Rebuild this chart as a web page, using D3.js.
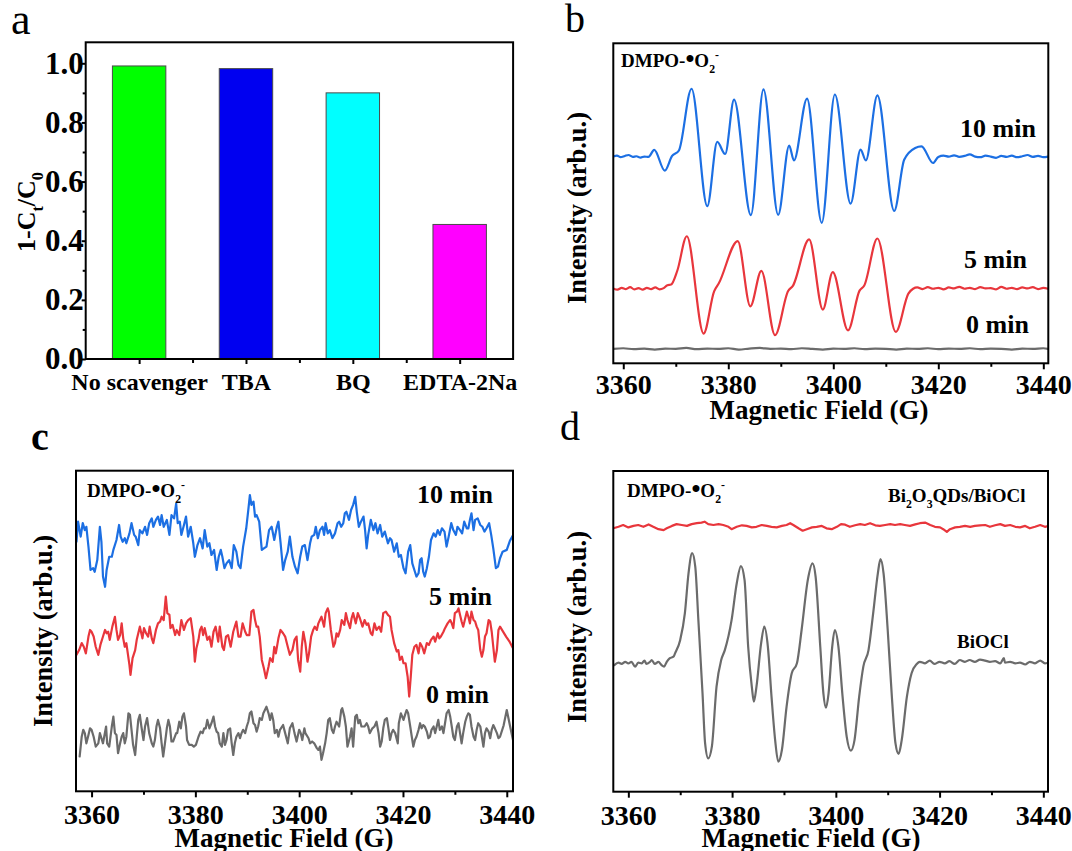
<!DOCTYPE html>
<html><head><meta charset="utf-8">
<script src="https://cdn.jsdelivr.net/npm/d3@7"></script>
<style>
body{margin:0;background:#fff}
svg{display:block}
</style>
</head><body>
<svg id="fig" width="1072" height="851"></svg>
<script>
// ---------------- DATA ----------------
const barCategories = ["No scavenger","TBA","BQ","EDTA-2Na"];
const barValues = [0.991, 0.982, 0.900, 0.455];
const removalTicks = [0,0.2,0.4,0.6,0.8,1.0];
const removalMinor = [0.1,0.3,0.5,0.7,0.9];
const fieldTicks = [3360,3380,3400,3420,3440];
const fieldMinor = [3370,3390,3410,3430];

// panel b : DMPO-•O2- with Bi2O3QDs/BiOCl, [field (G), intensity (arb.u.)]
const b10min = [[3358.1,64.6],[3358.8,64.9],[3359.5,64.4],[3360.3,64.8],[3361.0,65.1],[3361.8,64.5],[3362.5,64.7],[3363.3,64.3],[3364.0,64.6],[3364.8,64.5],
[3365.9,66.7],[3367.9,60.2],[3369.3,64.8],[3370.6,66.5],[3373.0,85.8],[3376.0,49.1],[3377.9,69.2],[3379.4,65.4],[3381.1,82.4],[3384.3,46.3],[3386.7,85.6],[3389.5,46.4],[3391.6,68.0],[3392.5,63.4],[3395.0,82.7],[3397.8,43.9],[3400.3,84.0],[3403.3,49.9],[3405.2,66.8],[3406.2,63.4],[3408.4,83.7],[3411.6,47.6],[3413.5,63.6],[3415.6,67.3],[3416.8,67.8],[3419.0,62.6],[3420.0,64.5],
[3421.0,64.9],[3422.0,64.6],[3423.0,65.0],[3424.0,64.5],[3425.0,64.8],[3426.0,65.3],[3427.0,64.6],[3428.0,64.4],[3429.0,64.9],[3430.0,64.6],[3431.0,64.2],[3432.0,64.8],[3433.0,64.5],[3434.0,64.9],[3435.0,64.4],[3436.0,64.7],[3437.0,65.1],[3438.0,64.5],[3439.0,64.8],[3440.0,64.4],[3440.9,64.6]];
const b5min = [[3358.1,23.4],[3358.9,23.0],[3359.7,23.6],[3360.5,23.2],[3361.3,23.8],[3362.1,23.1],[3362.9,23.5],[3363.7,23.0],[3364.5,23.6],[3365.3,23.2],[3366.1,23.7],[3366.9,23.1],[3367.7,23.5],[3368.4,24.4],[3369.1,24.6],[3370.3,29.0],[3372.1,39.7],[3375.3,9.3],[3377.3,22.5],[3378.2,25.0],[3381.8,38.2],[3384.2,17.8],[3386.3,28.9],[3388.9,8.8],[3391.4,22.6],[3392.3,24.2],[3395.4,38.7],[3398.0,16.8],[3399.9,28.5],[3402.8,10.3],[3405.0,22.7],[3405.9,24.3],[3408.4,39.0],[3411.9,9.8],[3414.3,21.8],[3415.2,23.3],
[3416.0,23.7],[3417.0,23.2],[3418.0,23.8],[3419.0,23.3],[3420.0,23.6],[3421.0,23.1],[3422.0,23.7],[3423.0,23.4],[3424.0,23.9],[3425.0,23.3],[3426.0,23.6],[3427.0,23.2],[3428.0,23.8],[3429.0,23.4],[3430.0,23.5],[3431.0,23.1],[3432.0,23.9],[3433.0,23.3],[3434.0,23.6],[3435.0,23.2],[3436.0,23.7],[3437.0,23.4],[3438.0,23.8],[3439.0,23.2],[3440.0,23.6],[3440.9,23.3]];
const b0min = [[3358.1,4.5],[3360,4.7],[3362,4.4],[3364,4.6],[3366,4.3],[3368,4.6],[3370,4.5],[3372,4.8],[3374,4.4],[3376,4.6],[3378,4.5],[3380,4.7],[3382,4.3],[3384,4.6],[3386,4.8],[3388,4.5],[3390,4.6],[3392,4.4],[3394,4.7],[3396,4.5],[3398,4.3],[3400,4.6],[3402,4.5],[3404,4.7],[3406,4.4],[3408,4.6],[3410,4.5],[3412,4.3],[3414,4.6],[3416,4.5],[3418,4.7],[3420,4.4],[3422,4.6],[3424,4.5],[3426,4.7],[3428,4.4],[3430,4.6],[3432,4.5],[3434,4.3],[3436,4.6],[3438,4.5],[3440,4.7],[3440.9,4.5]];

// panel c : DMPO-•O2- with BiOCl
const c10min = [[3357.1,83.2],[3357.4,89.9],[3357.9,84.9],[3358.3,89.4],[3358.7,87.1],[3359.0,88.2],[3359.4,81.6],[3359.8,73.8],[3360.3,74.4],[3360.6,73.2],[3361.1,77.1],[3361.6,88.2],[3361.9,83.2],[3362.2,71.6],[3362.6,68.2],[3362.9,73.8],[3363.4,78.2],[3363.9,78.2],[3364.2,80.5],[3364.8,83.8],[3365.3,88.8],[3365.6,84.9],[3366.0,83.2],[3366.4,84.4],[3366.7,82.7],[3367.3,86.0],[3367.7,89.4],[3368.2,85.5],[3368.5,84.9],[3369.0,82.1],[3369.3,87.1],[3369.8,86.0],[3370.3,88.2],[3370.7,85.5],[3371.1,89.4],[3371.6,91.0],[3371.9,88.2],[3372.4,90.5],[3372.8,91.6],[3373.2,88.8],[3373.5,92.1],[3373.9,88.2],[3374.5,90.5],[3375.0,85.5],[3375.4,92.1],[3375.9,91.0],[3376.3,96.0],[3376.6,89.4],[3377.0,89.9],[3377.3,85.5],[3377.8,88.8],[3378.2,91.6],[3378.6,84.9],[3379.1,88.2],[3379.6,82.7],[3379.9,78.2],[3380.4,82.1],[3380.9,84.4],[3381.4,81.0],[3381.8,87.1],[3382.3,81.6],[3382.7,82.7],[3383.1,78.8],[3383.6,80.5],[3384.1,73.8],[3384.5,78.2],[3384.9,80.5],[3385.2,78.2],[3385.6,74.4],[3386.0,76.0],[3386.5,77.1],[3387.0,74.4],[3387.4,82.1],[3387.9,79.9],[3388.3,75.5],[3388.7,74.4],[3389.2,81.6],[3389.8,87.7],[3390.2,93.8],[3390.5,98.8],[3390.8,95.5],[3391.2,96.6],[3391.5,91.6],[3391.8,92.1],[3392.3,89.9],[3392.8,80.5],[3393.2,81.0],[3393.7,81.6],[3394.2,87.1],[3394.7,88.2],[3395.2,83.8],[3395.7,88.2],[3396.0,89.9],[3396.4,83.2],[3396.9,73.8],
[3397.3,77.1],[3397.8,79.9],[3398.2,84.9],[3398.7,78.2],[3399.2,74.9],[3399.7,72.7],[3400.2,78.2],[3400.6,81.6],[3401.1,82.1],[3401.6,77.1],[3402.1,82.7],[3402.4,84.9],[3402.9,85.5],[3403.2,88.2],[3403.6,84.4],[3404.0,87.1],[3404.5,88.2],[3404.8,85.5],[3405.1,89.4],[3405.5,86.0],[3405.9,87.1],[3406.4,84.4],[3406.9,86.0],[3407.4,89.4],[3407.7,89.9],[3408.1,88.2],[3408.5,89.4],[3408.8,92.7],[3409.1,93.2],[3409.6,90.5],[3410.0,93.8],[3410.4,95.5],[3410.8,98.2],[3411.1,93.2],[3411.5,88.2],[3411.9,89.9],[3412.4,91.6],[3412.7,87.1],[3413.0,81.0],[3413.3,85.5],[3413.8,90.5],[3414.3,87.1],[3414.7,89.4],[3415.1,86.0],[3415.6,88.8],[3416.0,84.9],[3416.5,86.6],[3417.1,82.7],[3417.5,84.4],[3417.8,83.8],[3418.3,79.9],[3418.8,82.7],[3419.2,78.2],[3419.6,78.8],[3420.1,74.4],[3420.5,72.7],[3421.0,79.9],[3421.4,82.1],[3421.8,76.0],[3422.3,73.2],[3422.6,71.6],[3423.0,72.7],[3423.3,77.1],[3423.6,77.7],[3423.9,73.2],[3424.2,71.6],[3424.6,74.4],[3425.0,78.2],[3425.4,83.8],[3425.9,86.0],[3426.3,84.9],[3426.7,87.1],[3427.1,85.5],[3427.5,87.7],[3428.0,86.6],[3428.4,81.6],[3428.8,84.9],[3429.3,89.4],[3429.7,87.1],[3430.2,85.5],[3430.5,88.2],[3431.0,87.1],[3431.4,86.0],[3431.8,89.9],[3432.3,87.7],[3432.6,87.7],[3432.9,90.5],[3433.2,92.7],[3433.6,87.1],[3433.9,90.5],[3434.4,91.0],[3434.9,88.8],[3435.3,88.2],[3435.7,86.6],[3436.1,87.7],[3436.6,89.4],[3437.0,85.5],[3437.4,81.0],[3437.9,74.4],[3438.3,74.9],[3438.7,77.7],[3439.2,79.9],[3440.0,80.5],[3440.6,83.5],[3441.2,85.4]];
const c5min = [[3357.1,45.5],[3357.6,47.1],[3358.1,49.4],[3358.5,48.2],[3358.9,46.0],[3359.4,51.6],[3359.7,53.8],[3360.0,53.2],[3360.4,51.6],[3360.8,48.2],[3361.3,45.5],[3361.7,48.8],[3362.2,51.6],[3362.6,53.8],[3362.9,52.7],[3363.2,53.2],[3363.5,50.5],[3364.0,54.9],[3364.5,58.2],[3364.8,53.8],[3365.1,50.5],[3365.5,52.1],[3365.8,56.0],[3366.1,51.0],[3366.4,48.2],[3366.7,49.4],[3367.3,42.1],[3367.5,38.8],[3367.9,44.4],[3368.4,47.1],[3368.7,50.5],[3369.0,52.7],[3369.3,54.9],[3369.8,51.0],[3370.1,54.4],[3370.5,52.7],[3370.9,51.6],[3371.2,54.9],[3371.6,51.0],[3371.9,49.4],[3372.4,53.8],[3372.8,56.0],[3373.2,56.6],[3373.5,58.2],[3373.9,57.1],[3374.3,64.9],[3374.6,59.4],[3375.0,58.8],[3375.2,54.4],[3375.6,55.5],[3376.1,52.1],[3376.4,53.8],[3376.9,52.1],[3377.3,57.1],[3377.8,53.8],[3378.2,56.0],[3378.6,57.1],[3379.1,57.7],[3379.6,51.6],[3379.9,43.2],[3380.2,47.7],[3380.6,50.5],[3380.9,53.8],[3381.2,54.9],[3381.5,52.1],[3381.8,54.4],[3382.3,50.5],[3382.7,51.6],[3383.1,48.2],[3383.5,53.2],[3383.9,54.9],[3384.4,49.9],[3384.7,54.9],[3385.2,48.2],[3385.5,47.1],[3385.9,51.6],[3386.3,52.1],[3386.8,48.2],[3387.3,53.2],[3387.6,54.9],[3387.9,56.6],[3388.3,51.6],[3388.7,51.6],[3389.1,56.0],[3389.6,53.2],[3389.9,52.1],[3390.4,52.1],[3390.8,59.9],[3391.2,60.5],[3391.5,57.1],[3391.8,54.9],[3392.1,54.9],[3392.4,51.6],[3392.8,43.8],[3393.2,41.0],[3393.6,37.7],[3394.1,41.6],[3394.4,44.4],[3394.9,43.2],[3395.2,48.2],[3395.5,46.0],[3396.0,51.0],[3396.4,53.8],[3396.9,52.7],
[3397.3,51.6],[3397.8,48.2],[3398.2,45.5],[3398.7,47.1],[3399.1,50.5],[3399.5,51.6],[3399.8,43.8],[3400.2,39.9],[3400.5,48.2],[3400.8,53.2],[3401.2,49.4],[3401.6,43.2],[3401.9,46.0],[3402.3,51.6],[3402.7,53.8],[3403.0,54.9],[3403.4,53.8],[3403.7,56.0],[3404.0,57.1],[3404.3,58.2],[3404.8,54.9],[3405.1,59.4],[3405.5,61.0],[3405.7,59.9],[3406.1,53.8],[3406.6,48.2],[3406.9,49.4],[3407.2,52.7],[3407.5,51.6],[3407.9,53.8],[3408.2,57.1],[3408.7,55.5],[3409.0,59.4],[3409.3,57.1],[3409.8,54.4],[3410.1,57.7],[3410.4,59.4],[3410.9,56.0],[3411.3,59.4],[3411.7,57.7],[3412.2,54.9],[3412.6,57.1],[3413.0,55.5],[3413.3,56.0],[3413.8,52.7],[3414.1,52.1],[3414.5,56.0],[3414.9,53.8],[3415.4,54.9],[3415.8,53.2],[3416.2,59.4],[3416.7,59.9],[3417.1,58.8],[3417.5,58.2],[3417.8,53.8],[3418.3,49.4],[3418.8,46.6],[3419.1,47.1],[3419.4,43.8],[3419.8,44.9],[3420.1,42.7],[3420.5,42.7],[3420.9,38.2],[3421.2,31.6],[3421.5,38.2],[3421.8,45.5],[3422.2,48.2],[3422.6,48.8],[3423.0,46.0],[3423.3,49.4],[3423.7,48.2],[3424.1,46.0],[3424.6,49.4],[3425.0,48.8],[3425.4,50.5],[3425.9,51.6],[3426.2,49.9],[3426.7,52.7],[3427.0,51.0],[3427.3,51.6],[3427.8,53.2],[3428.1,54.4],[3428.6,56.0],[3429.1,57.1],[3429.4,56.0],[3429.7,54.4],[3430.0,59.4],[3430.4,59.9],[3430.7,61.0],[3431.0,58.8],[3431.3,56.6],[3431.6,54.9],[3432.0,57.7],[3432.3,59.9],[3432.6,58.2],[3432.9,56.0],[3433.2,59.9],[3433.6,57.1],[3433.9,56.6],[3434.2,54.9],[3434.5,53.8],[3434.9,47.1],[3435.2,44.9],[3435.5,47.1],[3435.8,51.6],[3436.1,52.7],[3436.5,57.1],[3436.8,56.6],[3437.1,53.2],[3437.4,48.2],[3437.7,43.2],[3438.1,47.1],[3438.4,53.8],[3438.7,54.9],[3439.9,51.5],[3440.5,50.0],[3441.2,47.7]];
const c0min = [[3357.7,11.6],[3358.1,18.2],[3358.4,20.5],[3358.7,19.4],[3359.0,16.0],[3359.4,18.8],[3359.7,21.0],[3360.0,20.5],[3360.4,18.2],[3360.8,14.9],[3361.3,16.0],[3361.6,19.4],[3361.9,17.7],[3362.2,16.0],[3362.8,21.6],[3363.0,16.0],[3363.4,14.9],[3363.9,21.6],[3364.2,24.9],[3364.5,19.4],[3364.8,18.8],[3365.1,12.7],[3365.5,16.0],[3365.8,18.2],[3366.1,19.4],[3366.4,16.0],[3366.7,18.2],[3367.1,26.0],[3367.4,25.5],[3367.7,20.5],[3368.0,15.5],[3368.4,12.1],[3368.7,18.2],[3369.0,23.8],[3369.3,25.5],[3369.6,21.6],[3370.0,17.1],[3370.3,21.6],[3370.7,24.4],[3371.1,19.4],[3371.6,16.0],[3371.9,14.9],[3372.2,17.1],[3372.5,21.6],[3372.8,23.8],[3373.2,21.0],[3373.5,16.0],[3373.8,11.6],[3374.1,15.5],[3374.5,21.0],[3374.8,23.8],[3375.1,21.6],[3375.4,16.6],[3375.7,16.6],[3376.3,19.4],[3376.5,19.4],[3376.9,23.2],[3377.2,21.0],[3377.5,24.9],[3377.8,26.0],[3378.2,21.6],[3378.4,17.1],[3378.8,15.5],[3379.3,15.5],[3379.7,14.9],[3380.1,15.5],[3380.6,18.2],[3381.0,19.9],[3381.4,19.4],[3381.7,21.0],[3382.0,21.0],[3382.3,23.8],[3382.7,21.0],[3383.1,22.7],[3383.5,24.9],[3383.8,21.6],[3384.1,19.9],[3384.4,19.4],[3384.7,16.0],[3385.1,14.9],[3385.4,19.4],[3385.7,15.5],[3386.0,17.1],[3386.3,20.5],[3386.7,21.0],[3387.0,16.0],[3387.3,12.1],[3387.6,16.0],[3387.9,18.2],[3388.3,19.4],[3388.6,17.7],[3388.9,19.4],[3389.2,20.5],[3389.6,19.4],[3389.9,21.6],[3390.2,23.2],[3390.5,26.0],[3390.8,26.6],[3391.2,22.7],[3391.5,22.1],[3391.8,19.9],[3392.1,21.6],[3392.4,24.4],[3392.8,23.8],[3393.1,26.0],[3393.4,27.1],[3393.7,28.2],[3394.1,26.0],[3394.4,23.8],[3394.7,26.0],[3395.0,23.8],[3395.3,19.4],[3395.7,20.5],[3396.0,18.2],[3396.3,20.5],[3396.9,22.1],
[3397.3,19.4],[3397.8,16.0],[3398.2,21.0],[3398.7,22.7],[3399.1,19.4],[3399.5,16.6],[3400.0,20.5],[3400.3,19.4],[3400.6,17.1],[3401.0,21.0],[3401.2,19.4],[3401.8,17.7],[3402.1,16.0],[3402.5,16.6],[3402.9,16.0],[3403.4,14.4],[3403.7,13.8],[3404.0,14.9],[3404.3,10.5],[3404.6,12.7],[3405.0,16.0],[3405.3,19.4],[3405.6,23.8],[3405.9,24.4],[3406.3,20.5],[3406.6,19.4],[3406.9,21.6],[3407.2,23.2],[3407.7,21.6],[3408.1,27.1],[3408.3,27.7],[3408.7,24.9],[3409.0,21.6],[3409.3,14.9],[3409.8,18.2],[3410.1,21.0],[3410.4,14.9],[3410.8,24.9],[3411.1,25.5],[3411.4,22.7],[3411.7,23.8],[3412.0,21.6],[3412.6,21.6],[3413.0,22.7],[3413.3,21.6],[3413.6,19.4],[3414.1,21.0],[3414.5,21.6],[3414.9,23.2],[3415.3,19.4],[3415.6,14.9],[3415.9,16.6],[3416.2,21.0],[3416.5,23.8],[3416.9,24.4],[3417.2,21.0],[3417.5,17.1],[3417.8,19.4],[3418.1,20.5],[3418.5,19.4],[3419.0,16.0],[3419.2,22.7],[3419.6,26.0],[3420.1,23.8],[3420.4,25.5],[3420.7,27.1],[3421.0,26.0],[3421.4,21.6],[3421.7,18.2],[3422.0,14.9],[3422.3,17.1],[3422.6,18.2],[3423.0,20.5],[3423.3,22.7],[3423.6,21.0],[3423.9,22.1],[3424.2,21.6],[3424.6,19.9],[3424.9,17.7],[3425.2,18.2],[3425.5,20.5],[3425.9,21.6],[3426.2,19.4],[3426.5,21.6],[3426.8,23.8],[3427.1,20.5],[3427.5,21.6],[3427.8,19.4],[3428.1,22.7],[3428.4,26.0],[3428.8,27.1],[3429.1,24.9],[3429.4,21.6],[3429.7,18.2],[3430.0,17.1],[3430.4,21.6],[3430.7,22.7],[3431.0,19.4],[3431.3,16.0],[3431.6,19.4],[3432.0,23.2],[3432.3,24.9],[3432.6,26.0],[3432.9,25.5],[3433.2,21.6],[3433.6,18.2],[3433.9,17.1],[3434.2,20.5],[3434.5,22.7],[3434.9,21.6],[3435.2,18.2],[3435.5,14.9],[3435.8,19.4],[3436.1,21.0],[3436.5,19.9],[3436.8,17.7],[3437.1,20.5],[3437.4,22.1],[3437.7,21.0],[3438.1,19.4],[3438.4,17.7],[3438.7,18.2],[3439.4,22.0],[3440.0,27.1],[3440.6,22.0],[3441.2,17.1]];

// panel d : BiOCl vs Bi2O3QDs/BiOCl
const dBiOCl = [[3357.3,42.2],[3358.1,43.0],[3358.7,42.6],[3359.4,43.3],[3360.0,42.8],[3360.6,43.3],[3361.3,41.7],[3361.9,43.0],[3362.6,42.8],[3363.1,43.7],[3363.5,42.6],[3364.2,43.3],[3364.5,43.9],[3365.1,42.6],[3365.8,43.3],[3366.4,42.2],[3366.9,41.7],[3367.4,43.3],[3368.0,44.5],[3368.7,45.0],[3369.0,46.1],[3370.0,50.6],[3370.9,59.5],[3371.6,72.8],[3372.3,79.5],[3372.9,75.0],[3373.5,57.2],[3374.3,32.8],[3374.8,16.1],[3375.4,11.1],[3376.1,15.0],[3377.0,35.0],[3377.9,43.9],[3378.6,47.2],[3379.9,57.2],[3380.9,69.5],[3381.7,75.2],[3382.4,70.6],[3383.1,48.3],[3383.8,35.0],[3384.2,30.0],[3384.7,35.0],[3385.6,49.5],[3386.2,55.0],[3386.9,48.3],[3387.6,31.7],[3388.3,17.2],[3388.9,10.0],[3389.6,13.9],[3390.5,28.3],[3391.5,39.5],[3392.5,42.8],[3393.4,53.9],[3394.6,70.6],[3395.5,76.1],[3396.1,71.7],[3397.0,48.3],[3397.6,32.8],[3398.1,28.0],[3398.6,32.8],[3399.3,48.3],[3399.8,53.9],[3400.5,48.3],[3401.3,31.7],[3402.1,18.3],[3402.9,13.7],[3403.6,17.2],[3404.5,31.7],[3405.3,41.7],[3406.3,47.2],[3407.2,59.5],[3408.1,72.8],[3408.6,77.5],[3409.2,72.8],[3410.0,53.9],[3410.8,31.7],[3411.5,16.1],[3412.1,12.6],[3412.7,17.2],[3413.7,31.7],[3414.6,39.5],[3415.6,42.6],[3416.2,43.3],[3417.2,42.8],[3418.1,43.7],[3419.0,42.6],[3420.0,43.3],[3421.0,42.8],[3421.9,43.5],[3422.9,42.6],[3423.9,43.9],[3424.9,43.3],[3425.8,43.9],[3426.8,43.3],[3427.8,44.0],[3428.8,43.7],[3429.7,43.3],[3430.7,43.5],[3431.7,42.8],[3432.4,44.5],[3432.6,43.0],[3433.6,43.3],[3434.6,42.8],[3435.5,43.0],[3436.5,42.4],[3437.4,43.3],[3438.4,42.8],[3439.4,43.7],[3440.3,42.8],[3440.9,43.0]];
const dComposite = [[3357.1,87.8],[3358.1,88.3],[3359.0,88.9],[3360.0,88.1],[3361.0,88.6],[3361.9,88.9],[3362.9,88.3],[3363.9,89.1],[3364.8,88.3],[3365.8,87.5],[3366.8,87.2],[3367.4,87.8],[3368.4,88.6],[3369.3,89.2],[3370.3,88.9],[3371.3,88.6],[3372.2,89.2],[3373.2,89.5],[3374.1,89.7],[3374.7,90.0],[3375.4,89.2],[3376.4,88.9],[3377.4,89.2],[3378.3,88.9],[3379.3,88.3],[3379.9,87.5],[3380.9,88.3],[3381.9,88.8],[3382.8,88.6],[3383.8,88.1],[3384.7,88.3],[3385.7,88.9],[3386.7,88.6],[3387.6,88.3],[3388.6,88.1],[3389.6,88.6],[3390.5,88.9],[3391.2,89.5],[3391.8,88.9],[3392.8,87.8],[3393.6,87.0],[3394.4,87.5],[3395.4,88.1],[3396.3,88.3],[3397.3,88.6],[3398.2,87.8],[3399.2,87.5],[3400.2,88.3],[3401.0,89.2],[3401.8,89.0],[3402.7,88.3],[3403.7,88.8],[3404.7,89.2],[3405.6,88.9],[3406.6,89.5],[3407.6,88.8],[3408.5,88.6],[3409.5,88.9],[3410.5,89.2],[3411.4,88.9],[3412.4,89.2],[3413.3,88.9],[3414.3,88.6],[3415.3,89.1],[3416.2,89.5],[3417.2,89.7],[3418.2,88.9],[3419.1,88.3],[3420.1,88.1],[3420.7,87.5],[3421.4,86.6],[3422.0,87.5],[3423.0,88.1],[3423.9,88.3],[3424.9,88.6],[3425.9,88.3],[3426.8,88.6],[3427.8,88.8],[3428.8,88.9],[3429.7,88.3],[3430.7,88.8],[3431.7,89.2],[3432.6,88.6],[3433.6,88.9],[3434.6,88.3],[3435.5,88.1],[3436.5,88.6],[3437.4,87.8],[3438.4,88.3],[3439.4,88.9],[3440.3,88.3],[3440.9,88.5]];

// ---------------- STYLE ----------------
const SERIF = "'Liberation Serif','Times New Roman',Times,serif";
const barColors = ["#00ff00","#0000f0","#00ffff","#ff00ff"];
const BLUE = "#1c6fe3", RED = "#e8363c", GRAY = "#6b6b6b";

const svg = d3.select("#fig").attr("font-family", SERIF);
svg.append("rect").attr("width",1072).attr("height",851).attr("fill","#fff");

function rich(g, x, y, parts, size, opt = {}) {
  const t = g.append("text").attr("x", x).attr("y", y)
    .attr("font-size", size).attr("font-weight", opt.weight || "bold")
    .attr("text-anchor", opt.anchor || "start").attr("fill", "#000");
  if (opt.rotate) t.attr("transform", `rotate(-90,${x},${y})`);
  let prev = 0;
  parts.forEach(p => {
    const shift = p.sub ? 0.3 * size : p.sup ? -0.42 * size : 0;
    const ts = t.append("tspan").text(p.t).attr("dy", shift - prev);
    if (p.sub || p.sup) ts.attr("font-size", size * 0.62);
    if (p.big) ts.attr("font-size", size * p.big);
    prev = shift;
  });
  return t;
}
function styleAxis(ax, size) {
  ax.attr("font-family", SERIF).attr("font-size", size).attr("font-weight", "bold");
  ax.select(".domain").remove();
  ax.selectAll(".tick line").attr("stroke", "#000").attr("stroke-width", 2);
  ax.selectAll(".tick text").attr("fill", "#000");
}
const dmpoParts = [{t:"DMPO-"},{t:"•",big:1.35},{t:"O"},{t:"2",sub:true},{t:"-",sup:true}];

// ---------------- PANEL a ----------------
(function(){
  const P = {x0:85.7, x1:513.1, y0:42.3, y1:359};
  const x = d3.scaleLinear().domain([0.5,4.5]).range([P.x0,P.x1]);
  const y = d3.scaleLinear().domain([0,1.071]).range([P.y1,P.y0]);
  const g = svg.append("g");
  const bw = x(1.25) - x(0.75);
  g.selectAll("rect.bar").data(barValues).join("rect").attr("class","bar")
    .attr("x",(d,i)=>x(i+1)-bw/2).attr("y",d=>y(d))
    .attr("width",bw).attr("height",d=>y(0)-y(d))
    .attr("fill",(d,i)=>barColors[i]).attr("stroke","#4a4a4a").attr("stroke-width",1);
  const axb = g.append("g").attr("transform",`translate(0,${P.y1})`)
    .call(d3.axisBottom(x).tickValues([1,2,3,4]).tickFormat(i=>barCategories[i-1]).tickSize(5).tickPadding(9));
  styleAxis(axb, 24);
  const axbm = g.append("g").attr("transform",`translate(0,${P.y1})`)
    .call(d3.axisBottom(x).tickValues([1.5,2.5,3.5]).tickFormat("").tickSize(4));
  styleAxis(axbm, 10);
  const axl = g.append("g").attr("transform",`translate(${P.x0},0)`)
    .call(d3.axisLeft(y).tickValues(removalTicks).tickFormat(d3.format(".1f")).tickSize(4).tickPadding(-2));
  styleAxis(axl, 31);
  const axlm = g.append("g").attr("transform",`translate(${P.x0},0)`)
    .call(d3.axisLeft(y).tickValues(removalMinor).tickFormat("").tickSize(3));
  styleAxis(axlm, 10);
  g.append("rect").attr("x",P.x0).attr("y",P.y0).attr("width",P.x1-P.x0).attr("height",P.y1-P.y0)
    .attr("fill","none").attr("stroke","#000").attr("stroke-width",2);
  rich(g, 35, 212, [{t:"1-C"},{t:"t",sub:true},{t:"/C"},{t:"0",sub:true}], 26, {anchor:"middle", rotate:true});
  rich(g, 11, 34, [{t:"a"}], 44, {weight:"normal"});
})();

// ---------------- SPECTRA PANELS ----------------
function spectrum(p){
  const x = d3.scaleLinear().domain(p.xDomain).range([p.x0,p.x1]);
  const y = d3.scaleLinear().domain(p.yDomain).range([p.y1,p.y0]);
  const g = svg.append("g");
  const cid = "clip-" + p.id;
  g.append("clipPath").attr("id",cid).append("rect")
    .attr("x",p.x0).attr("y",p.y0).attr("width",p.x1-p.x0).attr("height",p.y1-p.y0);
  p.series.forEach(s => {
    g.append("path").datum(s.data).attr("clip-path",`url(#${cid})`)
      .attr("fill","none").attr("stroke",s.color).attr("stroke-width",2.2)
      .attr("stroke-linejoin","round").attr("stroke-linecap","round")
      .attr("d", d3.line().x(d=>x(d[0])).y(d=>y(d[1]))
        .curve(s.smooth ? d3.curveMonotoneX : d3.curveLinear));
  });
  const ax = g.append("g").attr("transform",`translate(0,${p.y1})`)
    .call(d3.axisBottom(x).tickValues(fieldTicks).tickFormat(d3.format("d")).tickSize(6).tickPadding(p.pad));
  styleAxis(ax, 28);
  const axm = g.append("g").attr("transform",`translate(0,${p.y1})`)
    .call(d3.axisBottom(x).tickValues(fieldMinor).tickFormat("").tickSize(3.5));
  styleAxis(axm, 10);
  g.append("rect").attr("x",p.x0).attr("y",p.y0).attr("width",p.x1-p.x0).attr("height",p.y1-p.y0)
    .attr("fill","none").attr("stroke","#000").attr("stroke-width",2);
  rich(g, p.xTitle[0], p.xTitle[1], [{t:"Magnetic Field (G)"}], 27, {anchor:"middle"});
  rich(g, p.yTitle[0], p.yTitle[1], [{t:"Intensity (arb.u.)"}], 26.5, {anchor:"middle", rotate:true});
  rich(g, p.dmpo[0], p.dmpo[1], dmpoParts, 19);
  p.labels.forEach(l => rich(g, l.x, l.y, l.parts, l.size));
  rich(g, p.letter[0], p.letter[1], [{t:p.letter[2]}], 40, {weight:p.letter[3]});
}

spectrum({
  id:"b", x0:613.3, x1:1048.3, y0:43.3, y1:363.3, xDomain:[3358.1,3440.95], yDomain:[0,100], pad:5,
  series:[{data:b10min,color:BLUE,smooth:true},{data:b5min,color:RED,smooth:true},{data:b0min,color:GRAY,smooth:true}],
  xTitle:[819,418.5], yTitle:[586,208], dmpo:[621,67],
  labels:[{x:960,y:137,parts:[{t:"10 min"}],size:26},{x:964,y:268,parts:[{t:"5 min"}],size:26},{x:966,y:333,parts:[{t:"0 min"}],size:26}],
  letter:[565,32,"b","normal"]
});
spectrum({
  id:"c", x0:76, x1:513, y0:470.7, y1:791.3, xDomain:[3357.0,3441.2], yDomain:[0,106.9], pad:7,
  series:[{data:c10min,color:BLUE,smooth:false},{data:c5min,color:RED,smooth:false},{data:c0min,color:GRAY,smooth:false}],
  xTitle:[284,847], yTitle:[52,631], dmpo:[87,497],
  labels:[{x:417,y:503,parts:[{t:"10 min"}],size:26},{x:429,y:605,parts:[{t:"5 min"}],size:26},{x:426,y:703,parts:[{t:"0 min"}],size:26}],
  letter:[31,450,"c","bold"]
});
spectrum({
  id:"d", x0:613.3, x1:1048, y0:471, y1:791.7, xDomain:[3357.1,3440.9], yDomain:[0,106.9], pad:7,
  series:[{data:dComposite,color:RED,smooth:false},{data:dBiOCl,color:GRAY,smooth:true}],
  xTitle:[811,847], yTitle:[586,627], dmpo:[627,497],
  labels:[{x:888,y:502,parts:[{t:"Bi"},{t:"2",sub:true},{t:"O"},{t:"3",sub:true},{t:"QDs/BiOCl"}],size:19},
          {x:957,y:648,parts:[{t:"BiOCl"}],size:19}],
  letter:[560,440,"d","normal"]
});
</script>
</body></html>
